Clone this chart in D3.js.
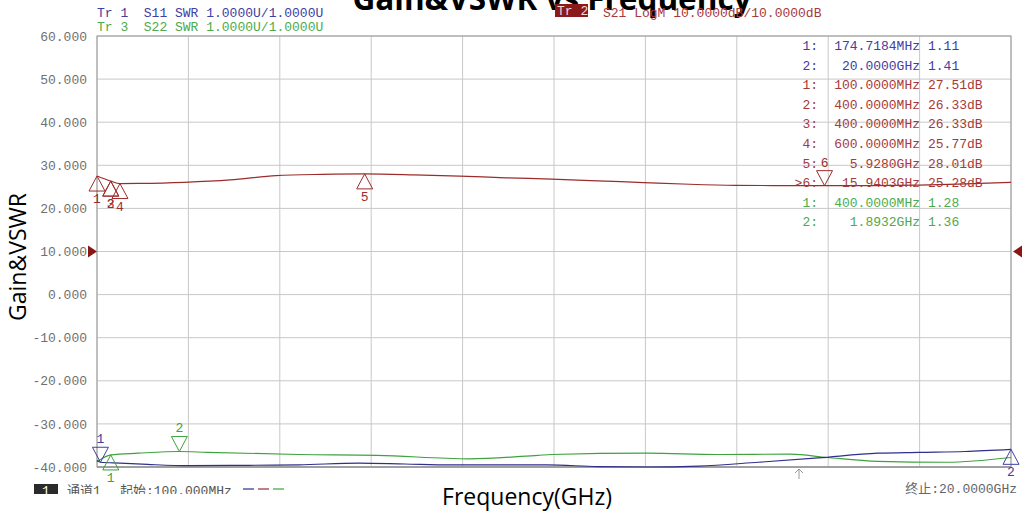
<!DOCTYPE html>
<html>
<head>
<meta charset="utf-8">
<title>Gain&amp;VSWR vs Frequency</title>
<script src="https://cdnjs.cloudflare.com/ajax/libs/d3/7.8.5/d3.min.js"></script>
<style>
  body { margin: 0; background: #fff; }
  svg { display: block; }
  .mono { font-family: "Liberation Mono", "Noto Sans CJK SC", monospace; font-size: 13px; }
</style>
</head>
<body>
<script>
// ---- data ----
const yTicks = [60, 50, 40, 30, 20, 10, 0, -10, -20, -30, -40];

// S21 gain, dB
const s21Freq = [0.1, 0.4, 0.6, 1.0, 2.0, 3.0, 4.0, 5.0, 5.928, 7.0, 8.0, 9.0, 10.0, 11.0, 12.0, 13.0, 14.0, 15.0, 15.9403, 17.0, 18.0, 19.0, 20.0];
const s21Gain = [27.51, 26.33, 25.77, 25.8, 26.05, 26.6, 27.6, 27.9, 28.01, 27.8, 27.5, 27.1, 26.8, 26.4, 26.0, 25.6, 25.35, 25.3, 25.28, 25.3, 25.4, 25.7, 26.05];

// S11 SWR
const s11Freq = [0.1, 0.1747, 0.6, 1.2, 2.1, 3.4, 4.5, 5.8, 6.8, 7.8, 8.9, 9.9, 11.0, 12.1, 13.2, 14.5, 15.8, 17.1, 18.0, 19.0, 20.0];
const s11Swr  = [1.15, 1.11, 1.09, 1.06, 1.03, 1.04, 1.05, 1.09, 1.07, 1.05, 1.05, 1.05, 1.01, 1.00, 1.02, 1.11, 1.21, 1.32, 1.34, 1.36, 1.41];

// S22 SWR
const s22Freq = [0.1, 0.4, 1.0, 1.8932, 2.5, 4.5, 6.2, 8.2, 9.7, 10.0, 12.1, 13.6, 15.2, 16.0, 17.1, 18.6, 20.0];
const s22Swr  = [1.12, 1.28, 1.32, 1.36, 1.34, 1.29, 1.27, 1.19, 1.27, 1.29, 1.32, 1.29, 1.30, 1.22, 1.13, 1.11, 1.22];

// markers: [label, freq GHz, value, direction]
const s21Markers = [["1", 0.1, 27.51, "up"], ["2", 0.4, 26.33, "up"], ["3", 0.4, 26.33, "up"], ["4", 0.6, 25.77, "up"], ["5", 5.928, 28.01, "up"], ["6", 15.9403, 25.28, "down"]];
const s11Markers = [["1", 0.1747, 1.11, "down"], ["2", 20.0, 1.41, "up"]];
const s22Markers = [["1", 0.4, 1.28, "up"], ["2", 1.8932, 1.36, "down"]];

// marker table rows: [label, stimulus, response, trace]
const tableRows = [
  ["1:", "174.7184MHz", "1.11", "s11"],
  ["2:", "20.0000GHz", "1.41", "s11"],
  ["1:", "100.0000MHz", "27.51dB", "s21"],
  ["2:", "400.0000MHz", "26.33dB", "s21"],
  ["3:", "400.0000MHz", "26.33dB", "s21"],
  ["4:", "600.0000MHz", "25.77dB", "s21"],
  ["5:", "5.9280GHz", "28.01dB", "s21"],
  [">6:", "15.9403GHz", "25.28dB", "s21"],
  ["1:", "400.0000MHz", "1.28", "s22"],
  ["2:", "1.8932GHz", "1.36", "s22"]
];

const color = { s11: "#2f2f8c", s21: "#9b2c2c", s22: "#3ea23e" };
const textColor = { s11: "#4040a0", s21: "#a63a3a", s22: "#4caa4c" };

// ---- layout ----
const W = 1025, H = 515;
const pLeft = 97, pRight = 1011, pTop = 36, pBottom = 467;

const svg = d3.select("body").append("svg").attr("width", W).attr("height", H);

const x = d3.scaleLinear().domain([0.1, 20]).range([pLeft, pRight]);
const y = d3.scaleLinear().domain([-40, 60]).range([pBottom, pTop]);
const swr = v => -40 + (v - 1) * 10;   // 1 U/div, reference at bottom line

// grid
const xDiv = d3.range(11).map(i => 0.1 + i * (20 - 0.1) / 10);
svg.append("g").selectAll("line").data(xDiv).join("line")
  .attr("x1", d => x(d)).attr("x2", d => x(d))
  .attr("y1", pTop).attr("y2", pBottom)
  .attr("stroke", "#c8c8c8");
svg.append("g").selectAll("line").data(yTicks).join("line")
  .attr("x1", pLeft).attr("x2", pRight)
  .attr("y1", d => y(d)).attr("y2", d => y(d))
  .attr("stroke", "#c8c8c8");
svg.append("rect").attr("x", pLeft).attr("y", pTop)
  .attr("width", pRight - pLeft).attr("height", pBottom - pTop)
  .attr("fill", "none").attr("stroke", "#9a9a9a");
svg.append("line").attr("x1", pLeft).attr("x2", pRight)
  .attr("y1", pBottom).attr("y2", pBottom)
  .attr("stroke", "#a0a0a0").attr("stroke-width", 2);

// y axis labels
const yAxis = d3.axisLeft(y).tickValues(yTicks).tickSize(0).tickPadding(10)
  .tickFormat(d => d.toFixed(3));
const ya = svg.append("g").attr("transform", `translate(${pLeft},0)`).call(yAxis);
ya.select(".domain").remove();
ya.selectAll("text").attr("fill", "#707070")
  .style("font-family", '"Liberation Mono", monospace').style("font-size", "13px");

// reference position triangles (S21 ref 10 dB)
svg.append("path")
  .attr("d", `M${pLeft - 9},${y(10) - 6}L${pLeft},${y(10)}L${pLeft - 9},${y(10) + 6}Z`)
  .attr("fill", "#8b1515");
svg.append("path")
  .attr("d", `M${pRight + 11},${y(10) - 6}L${pRight + 2},${y(10)}L${pRight + 11},${y(10) + 6}Z`)
  .attr("fill", "#8b1515");

// traces
const line = d3.line().x(d => x(d[0])).y(d => y(d[1])).curve(d3.curveMonotoneX);
svg.append("path").datum(d3.zip(s22Freq, s22Swr.map(swr)))
  .attr("d", line).attr("fill", "none").attr("stroke", color.s22).attr("stroke-width", 1.2);
svg.append("path").datum(d3.zip(s11Freq, s11Swr.map(swr)))
  .attr("d", line).attr("fill", "none").attr("stroke", color.s11).attr("stroke-width", 1.2);
svg.append("path").datum(d3.zip(s21Freq, s21Gain))
  .attr("d", line).attr("fill", "none").attr("stroke", color.s21).attr("stroke-width", 1.2);

// markers
function drawMarkers(list, conv, col) {
  const g = svg.append("g");
  list.forEach(([lab, f, v, dir]) => {
    const px = x(f), py = y(conv(v));
    const s = dir === "up" ? 1 : -1;
    g.append("path")
      .attr("d", `M${px},${py}L${px - 8},${py + s * 15}L${px + 8},${py + s * 15}Z`)
      .attr("fill", "none").attr("stroke", col).attr("stroke-width", 1);
    g.append("text").attr("class", "mono")
      .attr("x", px).attr("y", dir === "up" ? py + 27 : py - 19)
      .attr("text-anchor", "middle").attr("fill", col)
      .text(lab);
  });
}
drawMarkers(s21Markers, v => v, color.s21);
drawMarkers(s11Markers, swr, "#4040a0");
drawMarkers(s22Markers, swr, color.s22);

// marker table
const tg = svg.append("g").attr("class", "mono");
tableRows.forEach((r, i) => {
  const ty = 50 + i * 19.6;
  const c = textColor[r[3]];
  tg.append("text").attr("x", 818).attr("y", ty).attr("text-anchor", "end").attr("fill", c).text(r[0]);
  tg.append("text").attr("x", 920).attr("y", ty).attr("text-anchor", "end").attr("fill", c).text(r[1]);
  tg.append("text").attr("x", 928).attr("y", ty).attr("fill", c).text(r[2]);
});

// title (cut by the top edge, drawn under the trace headers)
svg.append("text").attr("x", 552).attr("y", 10).attr("text-anchor", "middle")
  .style("font-family", '"Open Sans", sans-serif').style("font-weight", "bold").style("font-size", "31.5px")
  .attr("fill", "#000").text("Gain&VSWR vs Frequency");

// header lines
svg.append("text").attr("class", "mono").attr("x", 97).attr("y", 17)
  .attr("fill", textColor.s11).style("white-space", "pre")
  .text("Tr 1  S11 SWR 1.0000U/1.0000U");
svg.append("text").attr("class", "mono").attr("x", 97).attr("y", 31)
  .attr("fill", textColor.s22).style("white-space", "pre")
  .text("Tr 3  S22 SWR 1.0000U/1.0000U");
svg.append("rect").attr("x", 555).attr("y", 4).attr("width", 33).attr("height", 13).attr("fill", "#8b1a1a");
svg.append("text").attr("class", "mono").attr("x", 557).attr("y", 15)
  .attr("fill", "#f3d6d6").text("Tr 2");
svg.append("text").attr("class", "mono").attr("x", 603).attr("y", 17)
  .attr("fill", textColor.s21).text("S21 LogM 10.0000dB/10.0000dB");

// axis titles
svg.append("text").attr("x", 527).attr("y", 505).attr("text-anchor", "middle")
  .style("font-family", '"Open Sans", sans-serif').style("font-size", "23px")
  .attr("fill", "#000").text("Frequency(GHz)");
svg.append("text").attr("transform", "translate(26,257) rotate(-90)").attr("text-anchor", "middle")
  .style("font-family", '"Open Sans", sans-serif').style("font-size", "23px")
  .attr("fill", "#000").text("Gain&VSWR");

// footer
svg.append("clipPath").attr("id", "foot").append("rect").attr("x", 0).attr("y", 470).attr("width", W).attr("height", 24);
const fg = svg.append("g").attr("clip-path", "url(#foot)").attr("class", "mono");
fg.append("rect").attr("x", 34).attr("y", 484).attr("width", 24).attr("height", 12).attr("fill", "#2a2a2a");
fg.append("text").attr("x", 46).attr("y", 495).attr("text-anchor", "middle").attr("fill", "#fff").text("1");
fg.append("text").attr("x", 67).attr("y", 495).attr("fill", "#555").text("通道1");
fg.append("text").attr("x", 120).attr("y", 495).attr("fill", "#555").text("起始:100.000MHz");
["s11", "s21", "s22"].forEach((k, i) => {
  fg.append("line").attr("x1", 243 + i * 15).attr("x2", 254 + i * 15)
    .attr("y1", 489).attr("y2", 489).attr("stroke", color[k]).attr("stroke-width", 1.2);
});
svg.append("text").attr("class", "mono").attr("x", 1017).attr("y", 493).attr("text-anchor", "end")
  .attr("fill", "#666").text("终止:20.0000GHz");

// stimulus pointer
svg.append("path").attr("d", "M799,469L799,479M795,473L799,469L803,473")
  .attr("fill", "none").attr("stroke", "#999");
</script>
</body>
</html>
